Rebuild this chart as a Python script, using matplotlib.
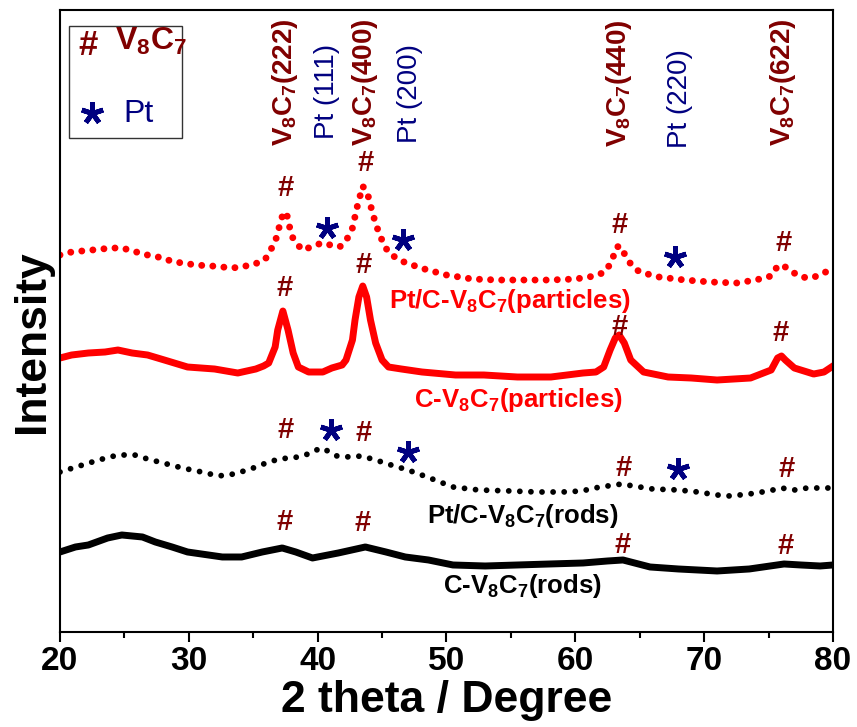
import matplotlib
matplotlib.use('Agg')
import matplotlib.pyplot as plt
from matplotlib.patches import Rectangle

plt.rcParams['font.family'] = ['Liberation Sans', 'DejaVu Sans']
plt.rcParams['mathtext.fontset'] = 'custom'
plt.rcParams['mathtext.rm'] = 'Liberation Sans'
plt.rcParams['mathtext.bf'] = 'Liberation Sans:bold'

# --- data (offset intensity, arbitrary units) ---
pt_particles_x = [20, 20.9, 22.5, 24, 24.8, 25.7, 26.4, 27.2, 28, 28.8, 29.6, 30.5, 31.8, 33.4, 34.9,
                  35.9, 36.3, 36.7, 37.1, 37.35, 37.6, 37.8, 38.1, 38.8, 39.5, 40.3, 41, 41.7, 42.2,
                  42.7, 43.1, 43.5, 43.9, 44.3, 44.8, 45.5, 46.5, 48, 50, 52, 54, 56, 58, 60, 61.5,
                  62.3, 62.8, 63.2, 63.5, 63.9, 64.4, 65, 66.5, 68.5, 70.5, 72.5, 74, 75.2, 75.7,
                  76.1, 76.6, 77.5, 78.3, 79.2, 80]
pt_particles_y = [377, 380, 382, 384, 384, 381, 378, 376, 374, 370, 369, 367, 366, 364, 367,
                  372, 381, 390, 409, 420, 418, 406, 393, 382, 385, 389, 387, 385, 391,
                  404, 427, 446, 437, 417, 397, 379, 371, 364, 357, 353, 352, 352, 352, 353, 356,
                  360, 370, 385, 386, 376, 366, 360, 355, 352, 350, 349, 352, 356, 366,
                  367, 362, 355, 354, 358, 365]

c_particles_x = [20, 20.9, 22.2, 23.5, 24.5, 25.6, 26.8, 28.1, 29.9, 32, 33.8, 35.2, 35.8, 36.2, 36.7,
                 36.9, 37.3, 37.7, 38.1, 38.5, 39.3, 40.4, 41.1, 41.9, 42.2, 42.7, 42.9, 43.2, 43.5,
                 43.8, 44.1, 44.5, 45, 45.5, 46.5, 48.1, 50.7, 52.9, 55.5, 58.1, 60.6, 61.6, 62.2,
                 62.7, 63.1, 63.4, 63.8, 64.3, 65.3, 67.2, 69, 71, 73.6, 75.2, 75.7, 76, 76.3, 77,
                 78.5, 79.3, 80]
c_particles_y = [274, 277, 279, 280, 282, 279, 277, 272, 265, 263, 259, 263, 266, 269, 285,
                 302, 321, 302, 279, 265, 260, 260, 264, 267, 272, 292, 312, 335, 346,
                 335, 312, 289, 272, 265, 263, 260, 257, 257, 255, 255, 259, 260, 265,
                 282, 294, 297, 289, 272, 260, 255, 254, 252, 254, 262, 274, 276, 272, 264,
                 258, 260, 266]

pt_rods_x = [20, 21.5, 23, 24.5, 25.8, 26.8, 28, 29.5, 31, 32.3, 33.5, 34.8, 36, 37, 38.5, 39.5, 40.2,
             40.8, 41.5, 42.5, 43.4, 44.5, 45.7, 47, 48.5, 50.5, 52.5, 55, 57, 59, 60.5, 61.5, 62.5,
             63.6, 64.5, 66, 68, 69.5, 71, 72, 73.5, 75, 76, 77, 78, 80]
pt_rods_y = [160, 166, 172, 177, 177, 173, 169, 164, 160, 156, 158, 163, 169, 173, 175, 179, 184,
             181, 176, 175, 176, 172, 167, 162, 155, 145, 142, 141, 140, 140, 141, 144, 146,
             148, 146, 143, 142, 140, 137, 136, 138, 141, 144, 142, 144, 144]

c_rods_x = [20, 21.2, 22.2, 23.7, 24.8, 26.4, 27.4, 28.7, 29.9, 32.6, 34.1, 35.7, 37.25, 38.3, 39.6,
            41.6, 43.7, 45.3, 46.8, 48.6, 50.5, 53, 55.5, 58, 60.6, 62.5, 63.7, 65.8, 68, 71, 73.5,
            76.2, 77.5, 79, 80]
c_rods_y = [80, 85, 87, 94, 97, 95, 90, 85, 80, 75, 75, 80, 84, 80, 74,
            79, 85, 80, 75, 72, 67, 66, 67, 68, 69, 71, 72, 65, 63, 61, 63,
            68, 67, 66, 67]

# peak markers: (x, y) per curve
hash_x = [[37.5, 43.7, 63.4, 76.2], [37.4, 43.55, 63.4, 75.95], [37.5, 43.55, 63.75, 76.4], [37.4, 43.5, 63.7, 76.35]]
hash_y = [[444, 469, 407, 389], [344, 367, 305, 299], [202, 199, 164, 163], [110, 109, 87, 86]]
star_x = [[40.75, 46.65, 67.7], [41.0, 47.0, 68.0]]
star_y = [[404, 392, 375], [202, 180, 163]]

# reflection labels on top
ref_labels = [r'V$_\mathbf{8}$C$_\mathbf{7}$(222)', 'Pt (111)', r'V$_\mathbf{8}$C$_\mathbf{7}$(400)', 'Pt (200)',
              r'V$_\mathbf{8}$C$_\mathbf{7}$(440)', 'Pt (220)', r'V$_\mathbf{8}$C$_\mathbf{7}$(622)']
ref_x = [37.45, 40.75, 43.7, 47.2, 63.4, 68.1, 76.1]
ref_y = [486, 493, 486, 489, 485, 484, 486]

curve_names = [r'Pt/C-V$_\mathbf{8}$C$_\mathbf{7}$(particles)', r'C-V$_\mathbf{8}$C$_\mathbf{7}$(particles)',
               r'Pt/C-V$_\mathbf{8}$C$_\mathbf{7}$(rods)', r'C-V$_\mathbf{8}$C$_\mathbf{7}$(rods)']
name_x = [54.9, 55.6, 55.95, 55.85]
name_y = [324, 225, 109, 39]

DARKRED = '#800000'
NAVY = '#000080'

fig = plt.figure(figsize=(8.57, 7.27), dpi=100)
ax = fig.add_axes([0.070, 0.1307, 0.902, 0.8555])

ax.plot(pt_particles_x, pt_particles_y, color='red', lw=5, linestyle=(0, (0.001, 1.6)),
        dash_capstyle='round')
ax.plot(c_particles_x, c_particles_y, color='red', lw=5, solid_joinstyle='round')
ax.plot(pt_rods_x, pt_rods_y, color='black', lw=4.2, linestyle=(0, (0.001, 1.9)),
        dash_capstyle='round')
ax.plot(c_rods_x, c_rods_y, color='black', lw=5, solid_joinstyle='round')

for xs, ys in zip(hash_x, hash_y):
    for x, y in zip(xs, ys):
        ax.text(x, y, '#', color=DARKRED, fontsize=21, fontweight='bold', ha='center', va='center')
for xs, ys in zip(star_x, star_y):
    ax.plot(xs, ys, linestyle='none', marker=(5, 2, 0), markersize=16, mew=3.5, color=NAVY)

for lab, x, y in zip(ref_labels, ref_x, ref_y):
    if lab.startswith('Pt'):
        ax.text(x, y, lab, color=NAVY, fontsize=20, rotation=90, ha='center', va='bottom')
    else:
        ax.text(x, y, lab, color=DARKRED, fontsize=20, fontweight='bold', rotation=90,
                ha='center', va='bottom')

name_colors = ['red', 'red', 'black', 'black']
for lab, x, y, c in zip(curve_names, name_x, name_y, name_colors):
    ax.text(x, y, lab, color=c, fontsize=18.5, fontweight='bold', ha='center', va='baseline')

# legend box
ax.add_patch(Rectangle((0.0117, 0.794), 0.146, 0.180, transform=ax.transAxes,
                       fill=False, edgecolor='#333333', lw=1))
ax.text(22.18, 587, '#', color=DARKRED, fontsize=25, fontweight='bold', ha='center', va='center')
ax.text(24.27, 582, r'V$_\mathbf{8}$C$_\mathbf{7}$', color=DARKRED, fontsize=23, fontweight='bold',
        ha='left', va='baseline')
ax.plot([22.49], [519], linestyle='none', marker=(5, 2, 0), markersize=16, mew=3.5, color=NAVY)
ax.text(24.9, 510, 'Pt', color=NAVY, fontsize=23, ha='left', va='baseline')

ax.set_xlim(20, 80)
ax.set_ylim(0, 622)
ax.set_xticks(range(20, 81, 10))
ax.set_xticks(range(25, 80, 10), minor=True)
ax.set_yticks([])
ax.tick_params(axis='x', which='major', direction='out', length=7, width=1.5, pad=3, labelsize=24)
ax.tick_params(axis='x', which='minor', direction='out', length=4.5, width=1.5)
for lbl in ax.get_xticklabels():
    lbl.set_fontweight('bold')
for sp in ax.spines.values():
    sp.set_linewidth(1.5)

ax.set_xlabel('2 theta / Degree', fontsize=32, fontweight='bold', labelpad=2)
ax.set_ylabel('Intensity', fontsize=32, fontweight='bold')
ax.yaxis.set_label_coords(-0.009, 0.467)

fig.savefig('out.png', dpi=100)
